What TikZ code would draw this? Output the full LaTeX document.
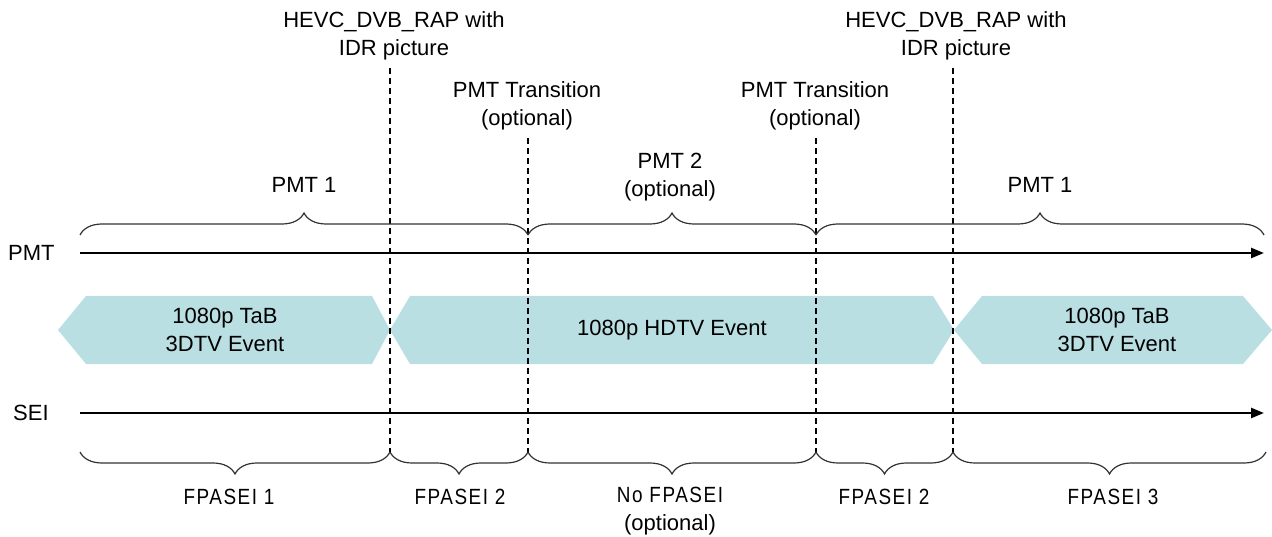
\documentclass[tikz,border=0pt]{standalone}
\usepackage{fontspec}
\setmainfont{Liberation Sans}
\newfontfamily\narrowfont[FakeStretch=0.86,LetterSpace=7]{Liberation Sans}
\usetikzlibrary{arrows.meta,decorations.pathreplacing}
\definecolor{evfill}{HTML}{BADFE3}
\definecolor{bracecol}{HTML}{333333}
\tikzset{
  lbl/.style={align=center, inner sep=0pt},
  axisline/.style={line width=2.4pt, -{Triangle[length=13pt,width=10pt]}},
  divider/.style={line width=1.2pt, dash pattern=on 6pt off 4pt},
  bracetop/.style={draw=bracecol, line width=1.2pt, decorate, decoration={brace, amplitude=22pt}},
  bracebot/.style={draw=bracecol, line width=1.2pt, decorate, decoration={brace, mirror, amplitude=22pt}},
  event/.style={fill=evfill, draw=none},
  seilbl/.style={lbl, font=\narrowfont\fontsize{22}{28}\selectfont}
}
\begin{document}
\begin{tikzpicture}[x=1pt, y=-1pt, font=\fontsize{22}{27.5}\selectfont]
\useasboundingbox (0,0) rectangle (1272,537);

% events
\fill[event] (58,330) -- (86,296) -- (372,296) -- (390,330) -- (372,364) -- (86,364) -- cycle;
\fill[event] (390,330) -- (410,296) -- (933,296) -- (954,330) -- (933,364) -- (410,364) -- cycle;
\fill[event] (954,330) -- (982,296) -- (1243,296) -- (1272,330) -- (1243,364) -- (982,364) -- cycle;
\node[lbl] (ev1) at (225,330) {1080p TaB\\3DTV Event};
\node[lbl] (ev2) at (672,330) {1080p HDTV Event};
\node[lbl] (ev3) at (1117,330) {1080p TaB\\3DTV Event};

% axes
\node[lbl, anchor=west] (pmt) at (8,253) {PMT};
\node[lbl, anchor=west] (sei) at (13,413) {SEI};
\coordinate (pmtA) at (80,253);
\coordinate (pmtB) at (1264,253);
\coordinate (seiA) at (80,413);
\coordinate (seiB) at (1264,413);
\draw[axisline] (pmtA) -- (pmtB);
\draw[axisline] (seiA) -- (seiB);

% divider lines
\coordinate (d1t) at (390,68);  \coordinate (d1b) at (390,452);
\coordinate (d2t) at (528,138); \coordinate (d2b) at (528,452);
\coordinate (d3t) at (816,138); \coordinate (d3b) at (816,452);
\coordinate (d4t) at (953,68);  \coordinate (d4b) at (953,452);
\draw[divider] (d1t) -- (d1b);
\draw[divider] (d2t) -- (d2b);
\draw[divider] (d3t) -- (d3b);
\draw[divider] (d4t) -- (d4b);

% top labels
\node[lbl] (rap1) at (394,36) {HEVC\_DVB\_RAP with\\IDR picture};
\node[lbl] (rap2) at (956,36) {HEVC\_DVB\_RAP with\\IDR picture};
\node[lbl] (tr1) at (527,106) {PMT Transition\\(optional)};
\node[lbl] (tr2) at (815,106) {PMT Transition\\(optional)};

% top braces
\coordinate (tb0) at (80,235);
\coordinate (tb1) at (528,235);
\coordinate (tb2) at (816,235);
\coordinate (tb3) at (1264,235);
\draw[bracetop] (tb0) -- (tb1);
\draw[bracetop] (tb1) -- (tb2);
\draw[bracetop] (tb2) -- (tb3);
\node[lbl] (pmt1a) at (304,185) {PMT 1};
\node[lbl] (pmt2) at (670,177) {PMT 2\\(optional)};
\node[lbl] (pmt1b) at (1040,185) {PMT 1};

% bottom braces
\coordinate (bb0) at (80,452);
\coordinate (bb1) at (390,452);
\coordinate (bb2) at (528,452);
\coordinate (bb3) at (816,452);
\coordinate (bb4) at (953,452);
\coordinate (bb5) at (1266,452);
\draw[bracebot] (bb0) -- (bb1);
\draw[bracebot] (bb1) -- (bb2);
\draw[bracebot] (bb2) -- (bb3);
\draw[bracebot] (bb3) -- (bb4);
\draw[bracebot] (bb4) -- (bb5);
\node[seilbl] (f1) at (229,497) {FPASEI 1};
\node[seilbl] (f2) at (460,497) {FPASEI 2};
\node[lbl] (nf) at (670,511) {{\narrowfont No FPASEI}\\(optional)};
\node[seilbl] (f2b) at (884,497) {FPASEI 2};
\node[seilbl] (f3) at (1113,497) {FPASEI 3};
\end{tikzpicture}
\end{document}
